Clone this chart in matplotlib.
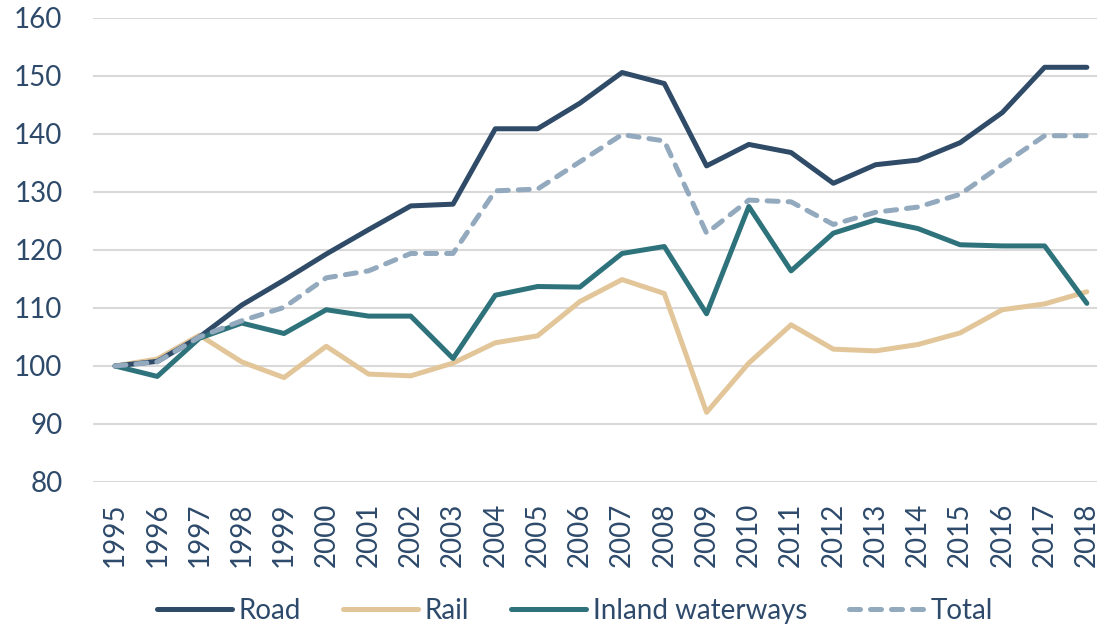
import matplotlib.pyplot as plt

years = list(range(1995, 2019))
road = [100, 100.8, 105, 110.5, 114.8, 119.3, 123.5, 127.6, 127.9, 140.9, 140.9, 145.3,
        150.6, 148.7, 134.5, 138.2, 136.8, 131.5, 134.7, 135.5, 138.5, 143.7, 151.5, 151.5]
rail = [100, 101.2, 105.3, 100.7, 98.0, 103.4, 98.6, 98.3, 100.5, 104.0, 105.2, 111.1,
        114.9, 112.5, 92.0, 100.5, 107.1, 102.9, 102.6, 103.7, 105.7, 109.7, 110.7, 112.8]
inland = [100, 98.2, 104.8, 107.4, 105.6, 109.7, 108.6, 108.6, 101.3, 112.2, 113.7, 113.6,
          119.4, 120.6, 109.0, 127.5, 116.4, 122.9, 125.2, 123.7, 120.9, 120.7, 120.7, 110.8]
total = [100, 100.7, 105, 107.8, 110.1, 115.2, 116.4, 119.4, 119.4, 130.2, 130.5, 135.2,
         139.9, 138.8, 122.9, 128.6, 128.3, 124.4, 126.5, 127.4, 129.6, 134.7, 139.7, 139.7]

txt = '#2E4A6B'
plt.rcParams['font.family'] = ['Lato', 'DejaVu Sans']

fig = plt.figure(figsize=(10.97, 6.27), dpi=100)
ax = fig.add_axes([0.0848, 0.2313, 0.9152, 0.74])

ax.plot(years, road, color='#2F4B68', lw=3.6, label='Road', solid_capstyle='round', zorder=3)
ax.plot(years, rail, color='#E2C699', lw=3.6, label='Rail', solid_capstyle='round', zorder=2)
ax.plot(years, inland, color='#2E737B', lw=3.6, label='Inland waterways', solid_capstyle='round', zorder=3)
ax.plot(years, total, color='#93A9BE', lw=3.6, label='Total', dashes=(2.2, 2.0),
        dash_capstyle='round', zorder=4)

ax.set_ylim(80, 160)
ax.set_xlim(1994.48, 2018.24)
ax.set_yticks(range(80, 161, 10))
ax.set_xticks(years)
ax.set_xticklabels([str(y) for y in years], rotation=90)
ax.grid(axis='y', color='#D9D9D9', lw=1.5)
ax.set_axisbelow(True)
for s in ax.spines.values():
    s.set_visible(False)
ax.tick_params(axis='y', length=0, pad=22, labelsize=20, labelcolor=txt)
ax.tick_params(axis='x', length=0, pad=15, labelsize=20, labelcolor=txt)

fig.legend(loc='center', bbox_to_anchor=(0.524, 0.026), ncol=4, frameon=False,
           fontsize=20, labelcolor=txt, handlelength=2.7, handletextpad=0.25,
           columnspacing=1.5)

fig.savefig('out.png', dpi=100)
